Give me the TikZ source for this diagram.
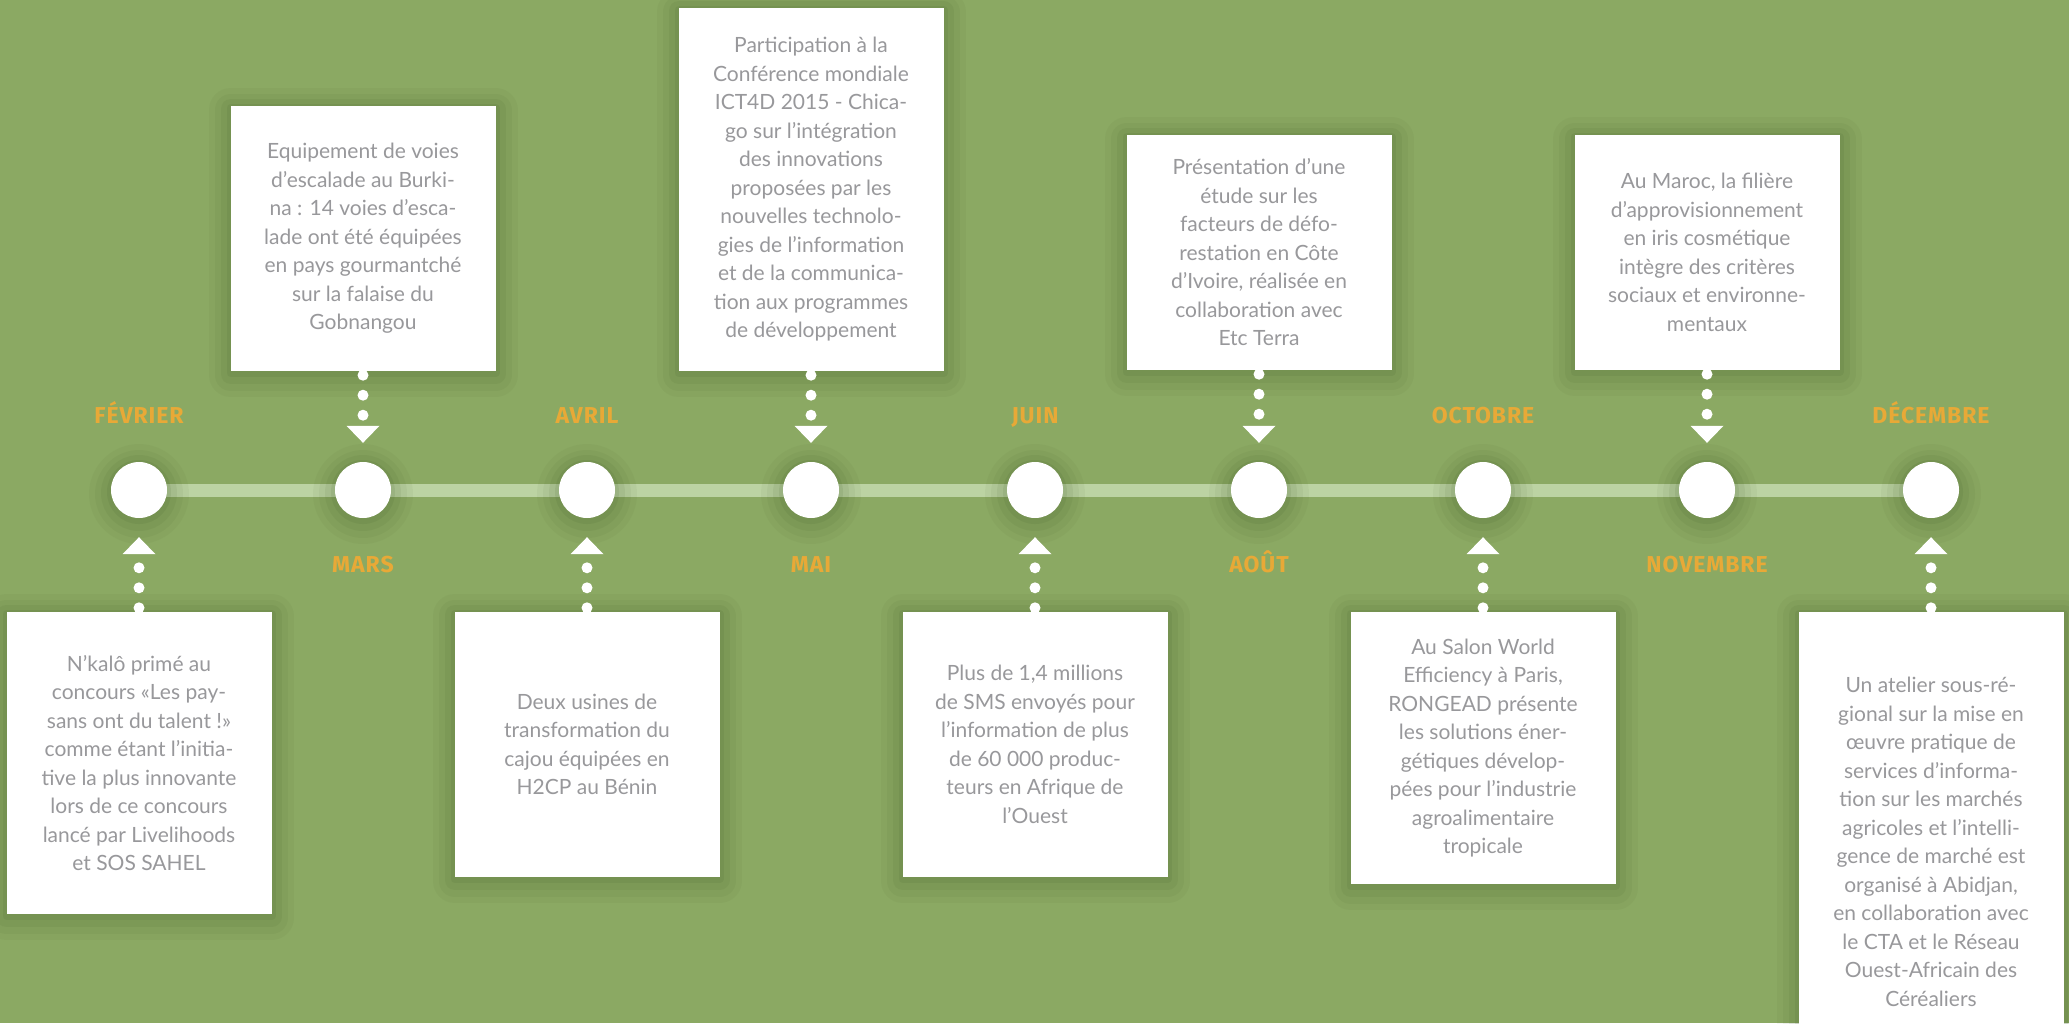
\documentclass[tikz,border=0pt]{standalone}
\usepackage{fontspec}
\setmainfont{Lato}
\newfontfamily\monthfont{Fira Sans}[LetterSpace=4.0]
\usetikzlibrary{arrows.meta,positioning}

\definecolor{bggreen}{HTML}{8BA963}
\definecolor{linegreen}{HTML}{BCD3A3}
\definecolor{monthorange}{HTML}{E8A937}
\definecolor{textgray}{HTML}{98989B}
\definecolor{shade}{HTML}{3F5A25}

\tikzset{
  halo/.style={
    preaction={draw=shade, line width=44pt, line join=round, opacity=0.05, transform canvas={yshift=-4pt}},
    preaction={draw=shade, line width=32pt, line join=round, opacity=0.06, transform canvas={yshift=-4pt}},
    preaction={draw=shade, line width=20pt, line join=round, opacity=0.08, transform canvas={yshift=-3pt}},
    preaction={draw=shade, line width=8pt, line join=round, opacity=0.10, transform canvas={yshift=-2pt}}},
  stop/.style={circle, fill=white, minimum size=56pt, inner sep=0pt, halo},
  event/.style={rectangle, fill=white, minimum width=265pt, inner sep=0pt, align=center,
    text=textgray, font=\fontsize{21}{28.5}\selectfont, halo},
  month/.style={text=monthorange, font=\monthfont\bfseries\fontsize{23}{24}\selectfont, anchor=base},
  link/.style={white, line width=11pt, line cap=round, dash pattern=on 0pt off 20pt, dash phase=16pt,
    -{Triangle[width=33pt,length=17pt,line width=0pt]}, shorten >=19pt}
}

\begin{document}
\begin{tikzpicture}[x=1pt, y=-1pt]
  \useasboundingbox (0,0) rectangle (2069,1023);
  \clip (0,0) rectangle (2069,1023);
  \fill[bggreen] (0,0) rectangle (2069,1023);

  % timeline
  \path (139,490) coordinate (start) (1931,490) coordinate (end);
  \draw[linegreen, line width=13pt] (start) -- (end);
  \path (139,490) node[stop] (feb) {}
    (363,490) node[stop] (mar) {}
    (587,490) node[stop] (apr) {}
    (811,490) node[stop] (may) {}
    (1035,490) node[stop] (jun) {}
    (1259,490) node[stop] (aug) {}
    (1483,490) node[stop] (oct) {}
    (1707,490) node[stop] (nov) {}
    (1931,490) node[stop] (dec) {};

  \path (139,423) node[month] (lfeb) {FÉVRIER}
    (363,572) node[month] (lmar) {MARS}
    (587,423) node[month] (lapr) {AVRIL}
    (811,572) node[month] (lmay) {MAI}
    (1035,423) node[month] (ljun) {JUIN}
    (1259,572) node[month] (laug) {AOÛT}
    (1483,423) node[month] (loct) {OCTOBRE}
    (1707,572) node[month] (lnov) {NOVEMBRE}
    (1931,423) node[month] (ldec) {DÉCEMBRE};

  % events
  \node[event, minimum height=302pt] (tfeb) at (139,763)
    {N’kalô primé au\\concours «Les pay-\\sans ont du talent !»\\comme étant l’initia-\\tive la plus innovante\\lors de ce concours\\lancé par Livelihoods\\et SOS SAHEL};
  \node[event, minimum height=265pt] (tmar) at (363,238.5)
    {Equipement de voies\\d’escalade au Burki-\\na : 14 voies d’esca-\\lade ont été équipées\\en pays gourmantché\\sur la falaise du\\Gobnangou};
  \node[event, minimum height=265pt] (tapr) at (587,744.5)
    {Deux usines de\\transformation du\\cajou équipées en\\H2CP au Bénin};
  \node[event, minimum height=363pt] (tmay) at (811,189.5)
    {Participation à la\\Conférence mondiale\\ICT4D 2015 - Chica-\\go sur l’intégration\\des innovations\\proposées par les\\nouvelles technolo-\\gies de l’information\\et de la communica-\\tion aux programmes\\de développement};
  \node[event, minimum height=265pt] (tjun) at (1035,744.5)
    {Plus de 1,4 millions\\de SMS envoyés pour\\l’information de plus\\de 60 000 produc-\\teurs en Afrique de\\l’Ouest};
  \node[event, minimum height=235pt] (taug) at (1259,252.5)
    {Présentation d’une\\étude sur les\\facteurs de défo-\\restation en Côte\\d’Ivoire, réalisée en\\collaboration avec\\Etc Terra};
  \node[event, minimum height=272pt] (toct) at (1483,748)
    {Au Salon World\\Efficiency à Paris,\\RONGEAD présente\\les solutions éner-\\gétiques dévelop-\\pées pour l’industrie\\agroalimentaire\\tropicale};
  \node[event, minimum height=235pt] (tnov) at (1707,252.5)
    {Au Maroc, la filière\\d’approvisionnement\\en iris cosmétique\\intègre des critères\\sociaux et environne-\\mentaux};
  \node[event, minimum height=460pt] (tdec) at (1931,842)
    {Un atelier sous-ré-\\gional sur la mise en\\œuvre pratique de\\services d’informa-\\tion sur les marchés\\agricoles et l’intelli-\\gence de marché est\\organisé à Abidjan,\\en collaboration avec\\le CTA et le Réseau\\Ouest-Africain des\\Céréaliers};

  % dotted links
  \draw[link] (tfeb.north) -- (feb.south);
  \draw[link] (tmar.south) -- (mar.north);
  \draw[link] (tapr.north) -- (apr.south);
  \draw[link] (tmay.south) -- (may.north);
  \draw[link] (tjun.north) -- (jun.south);
  \draw[link] (taug.south) -- (aug.north);
  \draw[link] (toct.north) -- (oct.south);
  \draw[link] (tnov.south) -- (nov.north);
  \draw[link] (tdec.north) -- (dec.south);
\end{tikzpicture}
\end{document}
